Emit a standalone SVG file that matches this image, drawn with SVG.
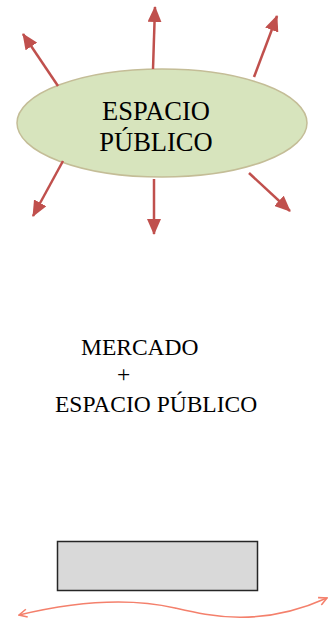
<svg xmlns="http://www.w3.org/2000/svg" width="330" height="632" viewBox="0 0 330 632">
<style>
.t{font-family:"Liberation Serif","Times New Roman",serif;fill:#000}
.arr{stroke:#C0504D;stroke-width:2.5;fill:none;marker-end:url(#ah)}
.wave{stroke:#F4806C;stroke-width:1.6;fill:none;marker-start:url(#oh);marker-end:url(#oh)}
</style>
<defs>
<marker id="ah" markerUnits="userSpaceOnUse" viewBox="0 0 16 14" refX="15" refY="7" markerWidth="16" markerHeight="14" orient="auto">
<path d="M0,0 L16,7 L0,14 Z" fill="#C0504D"/>
</marker>
<marker id="oh" markerUnits="userSpaceOnUse" viewBox="0 0 10 10" refX="9" refY="5" markerWidth="10" markerHeight="10" orient="auto-start-reverse">
<path d="M1,1 L9,5 L1,9" fill="none" stroke="#F4806C" stroke-width="1.6"/>
</marker>
</defs>
<rect width="330" height="632" fill="#fff"/>
<g id="espacio-publico">
<ellipse cx="162" cy="123" rx="145" ry="54" fill="#D7E4BD" stroke="#C4BD97" stroke-width="1.5"/>
<text class="t" x="156" y="120" font-size="26.5" text-anchor="middle">ESPACIO</text>
<text class="t" x="156" y="151" font-size="26.5" text-anchor="middle">PÚBLICO</text>
</g>
<g id="connectors">
<path class="arr" d="M58,86 L23,34"/>
<path class="arr" d="M153,69 L155,7"/>
<path class="arr" d="M254,77 L277,16"/>
<path class="arr" d="M63,161 L33,216"/>
<path class="arr" d="M154,179 L154,234"/>
<path class="arr" d="M249,173 L290,211"/>
<path class="wave" d="M19,615 C90,598 140,600 175,608 S260,628 327,598"/>
</g>
<g id="mercado">
<text class="t" x="81" y="355" font-size="23.5">MERCADO</text>
<text class="t" x="117" y="382" font-size="23.5">+</text>
<text class="t" x="55" y="412" font-size="23.5">ESPACIO PÚBLICO</text>
</g>
<g id="box">
<rect x="57.5" y="541.5" width="200" height="49" fill="#D9D9D9" stroke="#262626" stroke-width="1.5"/>
</g>
</svg>
